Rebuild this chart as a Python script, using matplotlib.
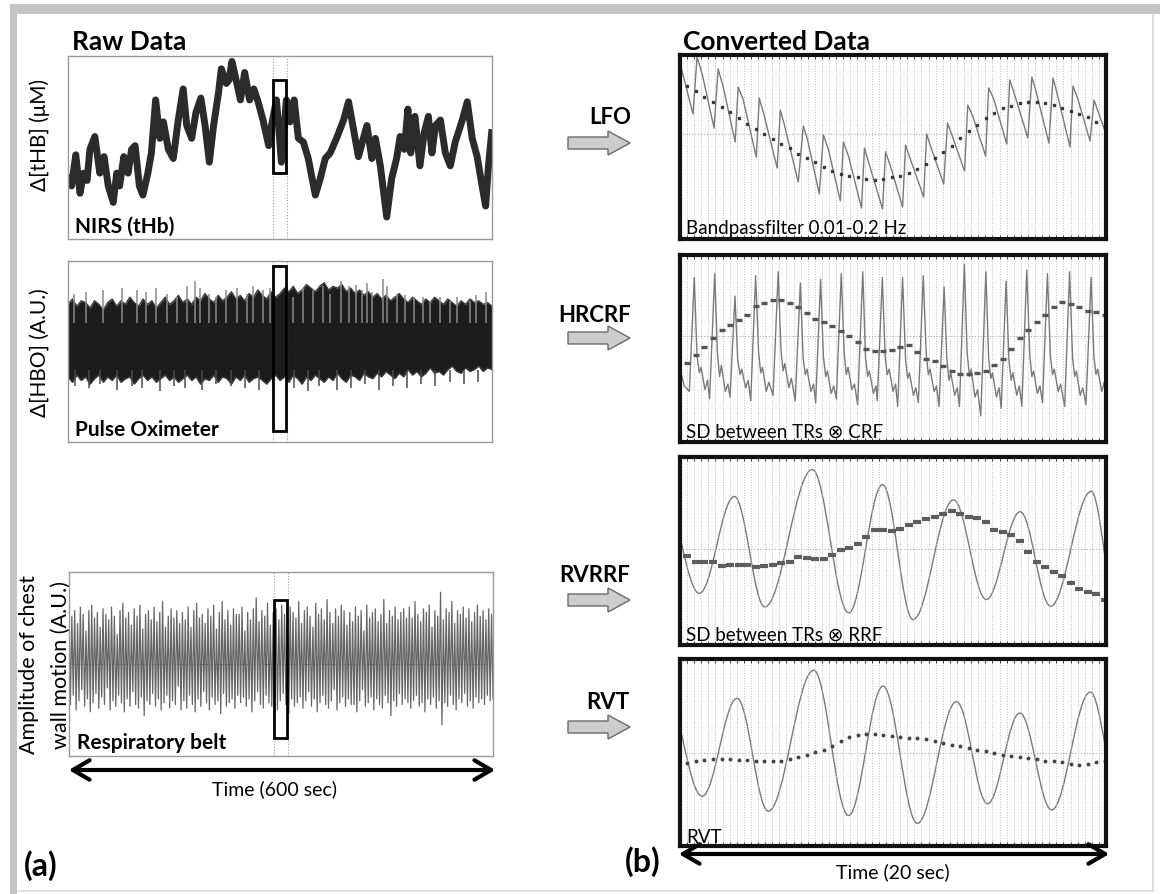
import numpy as np
import matplotlib
matplotlib.use('Agg')
import matplotlib.pyplot as plt
from matplotlib.patches import Rectangle, PathPatch, Polygon, FancyArrowPatch
from matplotlib.path import Path

plt.rcParams['font.family'] = ['Lato', 'DejaVu Sans']

W, H = 1160, 895

# ---------------- raw data (600 s) ----------------
# NIRS total haemoglobin, read at its turning points (s, % of panel height)
nirs_t = [0, 5, 11, 17, 22, 27, 31, 38, 45, 51, 57, 64, 69, 73, 79, 85, 90, 95, 101, 106,
          113, 118, 124, 130, 135, 142, 149, 156, 163, 168, 175, 181, 188, 194, 200, 206, 213, 217, 224, 228,
          232, 239, 244, 250, 257, 263, 269, 276, 284, 288, 295, 302, 309, 314, 320, 326, 333, 340, 350, 357,
          364, 371, 380, 390, 397, 404, 411, 418, 423, 430, 435, 442, 451, 458, 465, 470, 476, 481, 485, 491,
          498, 504, 510, 515, 520, 527, 534, 541, 548, 558, 565, 572, 579, 586, 591, 595, 600]
nirs_v = [35, 29, 46, 25, 36, 32, 49, 56, 36, 45, 29, 20, 36, 29, 45, 36, 49, 51, 29, 24,
          36, 47, 76, 55, 64, 49, 44, 65, 82, 62, 55, 69, 77, 62, 42, 62, 80, 93, 85, 87,
          97, 85, 76, 91, 76, 82, 75, 65, 51, 62, 76, 42, 76, 64, 76, 55, 53, 44, 24, 33,
          44, 47, 55, 65, 75, 60, 45, 55, 62, 44, 55, 40, 12, 33, 44, 56, 49, 71, 47, 67,
          40, 58, 67, 47, 62, 65, 47, 40, 53, 65, 75, 55, 45, 29, 18, 40, 60]

# pulse oximeter: upper / lower edge of the dense band every 6.25 s, plus single spikes
pulse_top = [76, 79, 75, 78, 77, 74, 78, 76, 73, 77, 79, 75, 78, 76, 80, 77, 75, 79, 76, 78, 74, 77, 80, 76, 78,
             81, 77, 79, 76, 80, 78, 82, 79, 77, 81, 78, 80, 83, 79, 81, 78, 82, 80, 84, 81, 79, 83, 80,
             82, 85, 83, 86, 82, 84, 87, 85, 83, 86, 88, 84, 86, 85, 87, 83, 85, 82, 84, 81, 83, 80, 82, 79, 81,
             78, 80, 82, 79, 77, 80, 78, 76, 79, 77, 80, 78, 76, 79, 77, 75, 78, 76, 79, 77, 78, 76, 77, 75]
pulse_bot = [36, 33, 37, 34, 36, 32, 35, 37, 33, 36, 34, 37, 33, 35, 36, 32, 35, 37, 34, 36, 33, 35, 37, 34, 36,
             33, 35, 37, 34, 36, 32, 35, 34, 37, 33, 36, 35, 32, 36, 34, 37, 33, 35, 36, 34, 32, 35, 37,
             34, 36, 33, 37, 35, 32, 36, 34, 37, 35, 33, 36, 34, 38, 35, 33, 37, 36, 34, 38, 36, 35, 38, 36, 39,
             37, 35, 38, 36, 40, 37, 39, 36, 38, 41, 38, 39, 37, 40, 42, 39, 38, 41, 39, 40, 42, 39, 41, 40]
spike_up_t = [8, 26, 50, 76, 97, 111, 125, 140, 154, 168, 180, 187, 199, 210, 224, 239, 253, 262, 276, 286,
              319, 333, 347, 361, 371, 387, 397, 408, 416, 423, 430, 446, 451, 465, 477, 489, 503, 512, 526, 541,
              550, 569, 578, 592]
spike_up_v = [82, 83, 84, 85, 84, 83, 85, 82, 80, 86, 89, 85, 82, 80, 84, 85, 82, 86, 84, 85,
              80, 85, 84, 86, 82, 89, 86, 87, 84, 88, 83, 90, 86, 81, 81, 80, 80, 78, 80, 78,
              80, 78, 81, 83]
spike_dn_t = [10, 30, 45, 70, 90, 105, 130, 150, 165, 190, 210, 230, 250, 270, 290, 320, 340, 355, 380, 400,
              420, 440, 460, 480, 500, 520, 540, 560, 580]
spike_dn_v = [31, 30, 32, 29, 31, 30, 28, 31, 30, 29, 32, 31, 30, 29, 31, 30, 28, 31, 29, 30,
              32, 29, 31, 30, 32, 31, 33, 32, 33]

# respiratory belt: successive breath maxima and minima
resp_peaks = [80, 76, 79, 72, 81, 77, 68, 79, 82, 75, 78, 70, 80, 77, 74, 81, 76, 66, 79, 83,
              75, 78, 71, 80, 76, 82, 69, 77, 79, 74, 81, 73, 78, 84, 70, 76, 80, 75, 79, 72,
              78, 74, 81, 70, 79, 83, 75, 77, 72, 80, 76, 82, 69, 78, 84, 74, 79, 71, 80, 77,
              77, 81, 68, 78, 74, 80, 86, 73, 79, 76, 83, 71, 78, 80, 74, 82, 77, 69, 81, 78,
              75, 84, 72, 79, 81, 76, 70, 83, 77, 80, 74, 85, 78, 72, 80, 76, 82, 79, 71, 78,
              73, 81, 76, 79, 68, 82, 75, 78, 80, 73, 77, 85, 72, 79, 76, 81, 74, 78, 80, 75,
              81, 75, 84, 77, 73, 80, 78, 82, 70, 79, 76, 89, 74, 80, 78, 84, 72, 79, 77, 81,
              75, 80, 73, 78, 82, 76, 79, 74, 80, 77]
resp_troughs = [28, 33, 25, 30, 36, 27, 31, 24, 29, 34, 26, 32, 28, 37, 25, 30, 27, 33, 29, 24,
                31, 27, 35, 28, 26, 32, 22, 30, 28, 34, 27, 31, 25, 29, 33, 26, 30, 28, 38, 25,
                30, 26, 33, 28, 24, 31, 27, 35, 29, 25, 32, 28, 30, 23, 34, 27, 29, 31, 26, 33,
                29, 32, 27, 31, 24, 30, 35, 28, 26, 33, 29, 27, 31, 25, 30, 34, 28, 23, 31, 27,
                29, 32, 26, 30, 35, 27, 31, 24, 29, 33, 28, 26, 30, 36, 25, 29, 32, 27, 31, 28,
                28, 24, 30, 36, 27, 29, 32, 25, 31, 28, 26, 33, 29, 22, 30, 27, 34, 28, 31, 29,
                26, 30, 33, 27, 29, 24, 31, 28, 32, 26, 30, 17, 29, 27, 33, 28, 25, 31, 29, 34,
                27, 30, 26, 32, 29, 31, 28, 33, 30, 31]

# 20 s window that is zoomed in panel (b)
window_t = [290, 310]

# ---------------- converted data (20 s) ----------------
# LFO: band-passed NIRS, turning points (s, a.u.)
lfo_t = [0, 0.61, 0.80, 1.04, 1.60, 1.79, 2.02, 2.59, 2.73, 2.96, 3.58, 3.72, 3.91, 4.56, 4.71, 4.89,
         5.55, 5.79, 5.98, 6.54, 6.73, 6.96, 7.53, 7.67, 7.91, 8.52, 8.66, 8.85, 9.51, 9.65, 9.88,
         10.45, 10.59, 10.78, 11.44, 11.58, 11.76, 12.38, 12.56, 12.75, 13.36, 13.51, 13.74, 14.35, 14.49, 14.73,
         15.34, 15.48, 15.67, 16.33, 16.52, 16.71, 17.32, 17.51, 17.69, 18.31, 18.45, 18.68, 19.25, 19.44, 19.62, 20]
lfo_v = [71, 20, 77, 60, 6, 65, 48, -8, 47, 35, -23, 36, 22, -34, 24, 10,
         -48, 8, -5, -60, -1, -15, -67, -8, -22, -74, -14, -28, -75, -18, -32,
         -73, -11, -23, -63, 0, -12, -50, 11, 0, -37, 29, 18, -22, 46, 35,
         -10, 54, 42, -4, 57, 43, -9, 56, 42, -13, 48, 35, -7, 34, 23, 0]
lfo_tr = [48, 43, 37, 32, 27, 22, 16, 10, 5, 0, -5, -10, -14, -20, -24, -28, -33, -37, -40, -42,
          -43, -45, -46, -45, -43, -42, -39, -35, -30, -24, -18, -12, -4, 3, 9, 16, 21, 26, 28, 31,
          32, 32, 31, 29, 26, 23, 20, 17, 12, 7]

# HRCRF: cardiac waveform (s, % of panel height)
hr_t = [0.00, 0.20,
        0.44, 0.67, 0.80, 0.91, 0.99, 1.17, 1.29, 1.39, 1.63, 1.76, 1.86, 1.94, 2.13, 2.25,
        2.35, 2.58, 2.71, 2.82, 2.90, 3.08, 3.20, 3.32, 3.55, 3.69, 3.79, 3.87, 4.05, 4.17,
        4.37, 4.61, 4.74, 4.84, 4.92, 5.11, 5.23, 5.41, 5.65, 5.78, 5.88, 5.96, 6.15, 6.27,
        6.37, 6.60, 6.73, 6.84, 6.92, 7.10, 7.22, 7.34, 7.57, 7.71, 7.81, 7.89, 8.07, 8.19,
        8.34, 8.58, 8.71, 8.81, 8.89, 9.08, 9.20, 9.26, 9.50, 9.63, 9.73, 9.82, 10.00, 10.12,
        10.22, 10.45, 10.59, 10.69, 10.77, 10.96, 11.07, 11.19, 11.42, 11.56, 11.66, 11.74, 11.93, 12.04,
        12.16, 12.40, 12.53, 12.63, 12.71, 12.90, 13.02, 13.12, 13.35, 13.48, 13.59, 13.67, 13.85, 13.97,
        14.12, 14.36, 14.49, 14.59, 14.67, 14.86, 14.98, 15.08, 15.31, 15.44, 15.55, 15.63, 15.81, 15.93,
        16.05, 16.28, 16.42, 16.52, 16.60, 16.78, 16.90, 17.02, 17.25, 17.39, 17.49, 17.57, 17.76, 17.87,
        18.06, 18.29, 18.43, 18.53, 18.61, 18.79, 18.91, 19.06, 19.30, 19.43, 19.53, 19.61, 19.80, 19.92,
        20.00]
hr_v = [39, 30,
        27, 88, 46, 37, 40, 28, 33, 23, 90, 47, 35, 41, 27, 31,
        24, 78, 44, 36, 39, 29, 33, 22, 89, 48, 37, 40, 27, 32,
        25, 91, 49, 38, 42, 29, 34, 22, 85, 45, 36, 39, 27, 31,
        21, 87, 46, 35, 38, 26, 30, 23, 90, 47, 36, 40, 28, 31,
        20, 91, 45, 35, 38, 26, 30, 22, 88, 46, 36, 39, 27, 31,
        19, 88, 44, 34, 37, 25, 29, 21, 89, 47, 36, 39, 27, 30,
        19, 83, 44, 33, 37, 25, 29, 19, 95, 48, 35, 39, 24, 28,
        14, 91, 45, 34, 37, 24, 29, 18, 86, 44, 33, 37, 25, 30,
        19, 92, 47, 35, 38, 26, 30, 21, 90, 46, 36, 39, 27, 31,
        19, 91, 45, 35, 38, 25, 29, 20, 88, 46, 36, 39, 27, 32,
        22]
hr_tr = [42.5, 46.4, 50.9, 55.4, 59.9, 62.6, 65.3, 68.0, 72.5, 74.3, 75.7, 75.7, 74.3, 72.0, 68.9, 65.8, 64.0,
         62.2, 59.5, 56.8, 53.3, 50.0, 48.8, 48.8, 49.1, 50.9, 51.8, 47.9, 44.6, 43.2, 40.7, 37.8, 36.5,
         36.5, 36.9, 37.8, 41.0, 44.6, 50.0, 55.4, 59.9, 64.4, 68.0, 72.0, 74.8, 73.8, 72.0, 70.2, 69.3, 68.0]

# RVRRF: respiratory waveform, turning points (s, % of panel height)
rrf_t = [-0.81, 0.91, 2.55, 3.98, 6.21, 7.92, 9.51, 10.94, 12.84, 14.38, 15.97, 17.40, 19.30, 20.50]
rrf_v = [82.6, 27.5, 79.0, 20.3, 93.3, 17.1, 85.3, 13.5, 77.2, 24.2, 70.9, 20.6, 81.7, 20.6]
rrf_tr = [47.2, 44.3, 44.3, 44.0, 42.2, 42.5, 42.7, 42.5, 41.3, 42.2, 42.7, 43.4, 44.3, 46.7, 46.1, 45.8, 45.8,
          47.9, 50.3, 51.7, 53.9, 57.4, 61.0, 61.4, 60.9, 61.9, 63.7, 65.5, 66.8, 67.9, 69.5, 71.3, 69.5,
          67.9, 67.3, 65.5, 61.0, 60.1, 58.7, 55.1, 49.4, 44.3, 41.3, 39.0, 36.8, 33.2, 30.0, 28.2, 27.3, 24.2]

# RVT: respiratory volume per time
rvt_t = [-0.72, 1.04, 2.68, 4.14, 6.28, 7.91, 9.53, 11.14, 12.98, 14.44, 15.95, 17.45, 19.26, 20.64]
rvt_v = [84.1, 26.6, 79.0, 18.6, 94.0, 16.3, 85.5, 12.1, 77.2, 22.6, 71.1, 19.3, 82.3, 26.2]
rvt_tr = [44.3, 45.2, 46.1, 46.6, 46.5, 46.5, 46.1, 46.1, 45.7, 45.7, 45.7, 45.7, 46.5, 47.6, 48.8, 50.1, 51.5,
          53.7, 56.0, 58.2, 59.3, 60.0, 59.7, 59.1, 58.8, 58.2, 57.5, 57.5, 57.0, 56.4, 55.1, 54.2, 53.3,
          52.4, 51.5, 50.6, 49.7, 48.5, 47.9, 47.4, 47.0, 46.5, 45.7, 45.2, 44.7, 43.9, 43.4, 43.9, 44.7, 45.2]

tr_times = 0.35 + 0.4 * np.arange(50)   # one sample per TR

fig = plt.figure(figsize=(W / 100, H / 100), dpi=100)


def ax_px(x0, y0, x1, y1):
    return fig.add_axes([x0 / W, 1 - y1 / H, (x1 - x0) / W, (y1 - y0) / H])


def ftext(x, y, s, **kw):
    return fig.text(x / W, 1 - y / H, s, **kw)


def raw_panel(ax, box_lo, box_hi):
    ax.set_xlim(0, 600)
    ax.set_ylim(0, 100)
    ax.set_xticks([])
    ax.set_yticks([])
    for s in ax.spines.values():
        s.set_color('#9a9a9a')
        s.set_linewidth(1)
    for t in window_t:
        ax.axvline(t, color='#9a9a9a', ls=':', lw=0.8)
    ax.add_patch(Rectangle((window_t[0], box_lo), window_t[1] - window_t[0] - 1.5, box_hi - box_lo,
                           fill=False, ec='black', lw=2, zorder=6))


def conv_panel(ax, ylo, yhi, zero):
    ax.set_xlim(0, 20)
    ax.set_ylim(ylo, yhi)
    ax.set_xticks(np.arange(0, 20.01, 1 / 3))
    ax.set_yticks([])
    ax.tick_params(axis='x', direction='in', length=3, width=0.7, top=True,
                   labelbottom=False, color='#444')
    ax.grid(axis='x', color='#bdbdbd', ls=':', lw=0.7)
    ax.axhline(zero, color='#aaaaaa', ls=':', lw=0.8)
    for s in ax.spines.values():
        s.set_linewidth(3)
        s.set_color('#111111')


def smooth_curve(ax, ts, vs, **kw):
    verts = [(ts[0], vs[0])]
    codes = [Path.MOVETO]
    for i in range(1, len(ts)):
        d = 0.363 * (ts[i] - ts[i - 1])
        verts += [(ts[i - 1] + d, vs[i - 1]), (ts[i] - d, vs[i]), (ts[i], vs[i])]
        codes += [Path.CURVE4] * 3
    ax.add_patch(PathPatch(Path(verts, codes), fill=False, **kw))


# ---- frame ----
fig.patches.append(Rectangle((10 / W, 1 - 15 / H), 1 - 10 / W, 10 / H, transform=fig.transFigure,
                             fc='#c4c4c4', ec='none'))
fig.patches.append(Rectangle((10 / W, 0), 7 / W, 1 - 5 / H, transform=fig.transFigure,
                             fc='#c4c4c4', ec='none'))
fig.patches.append(Rectangle((1152 / W, 3 / H), 2 / W, 1 - 18 / H, transform=fig.transFigure,
                             fc='#dcdcdc', ec='none'))
fig.patches.append(Rectangle((17 / W, 2 / H), 1137 / W, 2 / H, transform=fig.transFigure,
                             fc='#e2e2e2', ec='none'))

# ---- (a) raw data ----
ax1 = ax_px(68, 57, 492, 240)
raw_panel(ax1, 36, 87)
ax1.plot(nirs_t, nirs_v, color='#2b2b2b', lw=5, solid_joinstyle='round', solid_capstyle='butt')

ax2 = ax_px(68, 262, 492, 443)
raw_panel(ax2, 6, 97)
pulse_t = np.linspace(0, 600, len(pulse_top))
ax2.fill_between(pulse_t, pulse_bot, pulse_top, color='#1c1c1c', lw=0)
ax2.plot(pulse_t, pulse_top, color='#3a3a3a', lw=1)
ax2.plot(pulse_t, pulse_bot, color='#3a3a3a', lw=1)
ax2.vlines(spike_up_t, 66, spike_up_v, color='#8a8a8a', lw=1.1)
ax2.vlines(spike_dn_t, spike_dn_v, 40, color='#4a4a4a', lw=1.1)

ax3 = ax_px(69, 573, 493, 757)
raw_panel(ax3, 10, 85)
resp = np.ravel(np.column_stack([resp_peaks, resp_troughs]))
ax3.plot(np.linspace(0, 600, len(resp)), resp, color='#666666', lw=0.9)
ax3.axhline(50, color='#555', ls=(0, (1, 2)), lw=0.6)

ftext(72, 50, 'Raw Data', fontsize=19, fontweight='bold', va='baseline')
ftext(75, 233, 'NIRS (tHb)', fontsize=15, fontweight='bold', va='baseline')
ftext(75, 436, 'Pulse Oximeter', fontsize=15, fontweight='bold', va='baseline')
ftext(77, 749, 'Respiratory belt', fontsize=15, fontweight='bold', va='baseline')
ftext(40, 135, 'Δ[tHB] (μM)', fontsize=15, rotation=90, ha='center', va='center')
ftext(40, 353, 'Δ[HBO] (A.U.)', fontsize=15, rotation=90, ha='center', va='center')
ftext(29, 665, 'Amplitude of chest', fontsize=15.5, rotation=90, ha='center', va='center')
ftext(61, 665, 'wall motion (A.U.)', fontsize=15.5, rotation=90, ha='center', va='center')
ftext(274, 789, 'Time (600 sec)', fontsize=14, ha='center', va='center')
ftext(24, 866, '(a)', fontsize=23, fontweight='bold', va='center')

# ---- (b) converted data ----
axb1 = ax_px(680, 56, 1106, 240)
conv_panel(axb1, -105, 79, 0)
axb1.plot(lfo_t, lfo_v, color='#7a7a7a', lw=1)
axb1.plot(tr_times, lfo_tr, ls='none', marker='s', ms=1.6, color='#3a3a3a')

axb2 = ax_px(680, 256, 1106, 443)
conv_panel(axb2, 0, 100, 56.8)
axb2.plot(hr_t, hr_v, color='#7a7a7a', lw=1)
axb2.plot(tr_times, hr_tr, ls='none', marker='_', ms=5, mew=2.4, color='#555555')

axb3 = ax_px(680, 458, 1106, 646)
conv_panel(axb3, 0, 100, 51)
smooth_curve(axb3, rrf_t, rrf_v, ec='#7a7a7a', lw=1)
axb3.plot(tr_times, rrf_tr, ls='none', marker='_', ms=5.5, mew=3, color='#5e5e5e')

axb4 = ax_px(680, 660, 1106, 847)
conv_panel(axb4, 0, 100, 49.7)
smooth_curve(axb4, rvt_t, rvt_v, ec='#7a7a7a', lw=1)
axb4.plot(tr_times, rvt_tr, ls='none', marker='o', ms=1.8, color='#444444')

ftext(683, 50, 'Converted Data', fontsize=19, fontweight='bold', va='baseline')
ftext(686, 234, 'Bandpassfilter 0.01-0.2 Hz', fontsize=13.5, va='baseline')
ftext(686, 438, 'SD between TRs ⊗ CRF', fontsize=13.5, va='baseline')
ftext(686, 641, 'SD between TRs ⊗ RRF', fontsize=13.5, va='baseline')
ftext(686, 843, 'RVT', fontsize=13.5, va='baseline')
ftext(893, 872, 'Time (20 sec)', fontsize=14, ha='center', va='center')
ftext(625, 862, '(b)', fontsize=23, fontweight='bold', va='center')

# labels and block arrows between the columns
for name, xc, yt, ya in [('LFO', 610, 117, 144), ('HRCRF', 595, 316, 339),
                         ('RVRRF', 595, 576, 601), ('RVT', 608, 703, 728)]:
    ftext(xc, yt, name, fontsize=16, fontweight='bold', ha='center', va='center')
    pts = [(568, ya - 6), (608, ya - 6), (608, ya - 12), (630, ya), (608, ya + 12),
           (608, ya + 6), (568, ya + 6)]
    fig.patches.append(Polygon([(x / W, 1 - y / H) for x, y in pts], closed=True,
                               transform=fig.transFigure, fc='#cdcdcd', ec='#6a6a6a', lw=1))

# double-headed time arrows
for x0, x1, y in [(66, 498, 771), (676, 1112, 855)]:
    fig.patches.append(FancyArrowPatch((x0 / W, 1 - y / H), (x1 / W, 1 - y / H),
                                       transform=fig.transFigure,
                                       arrowstyle='<->,head_length=0.6,head_width=0.35',
                                       mutation_scale=20, lw=3, color='black'))

fig.savefig('out.png', dpi=100)
